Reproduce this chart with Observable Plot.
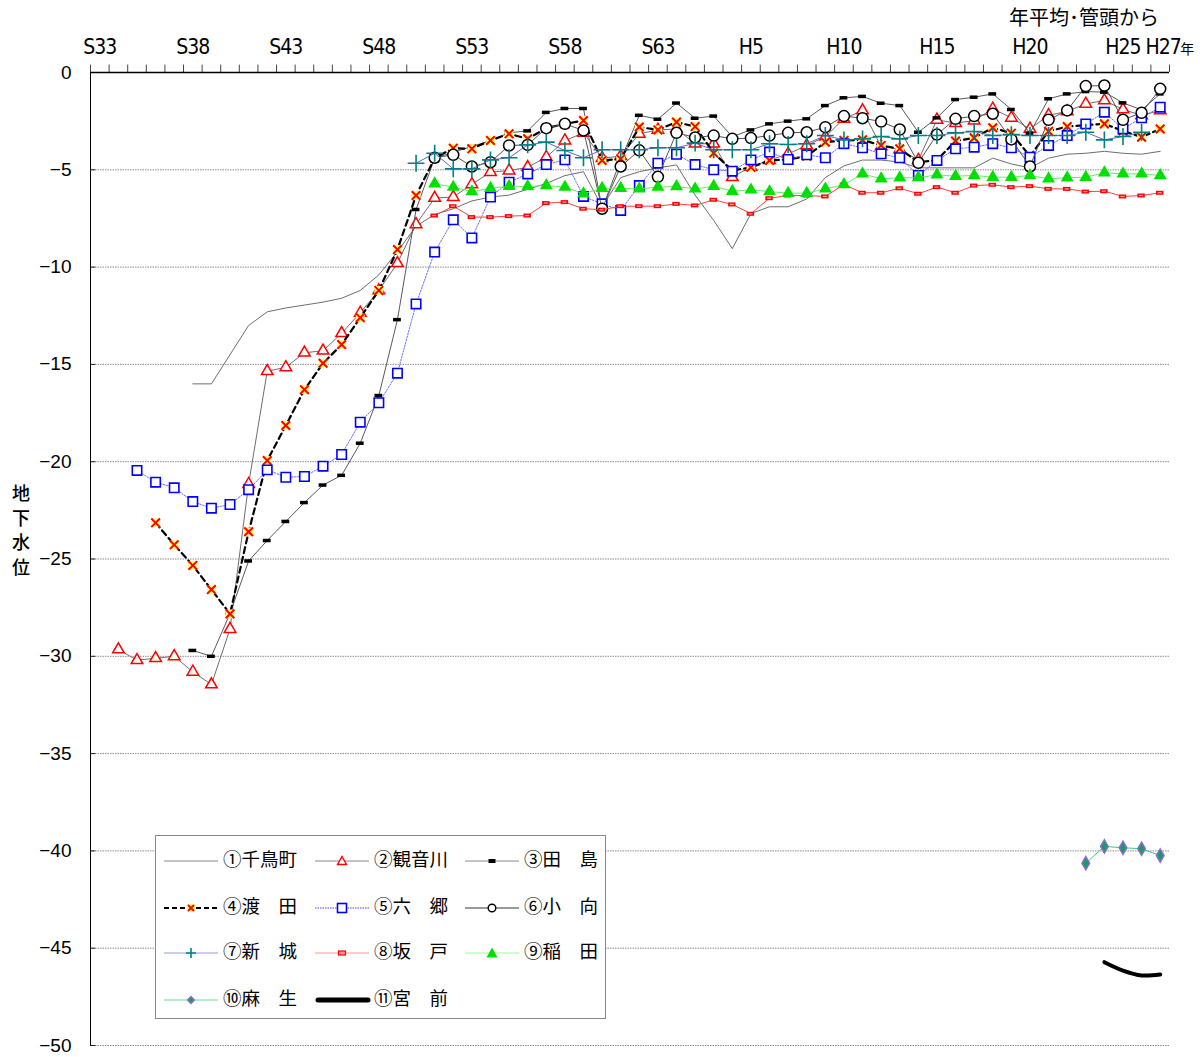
<!DOCTYPE html>
<html><head><meta charset="utf-8">
<script src="https://cdn.jsdelivr.net/npm/d3@7"></script>
<script src="https://cdn.jsdelivr.net/npm/@observablehq/plot@0.6"></script>
<style>
body{margin:0;background:#fff;}
#wrap{position:relative;width:1204px;height:1057px;font-family:"Noto Sans CJK JP",sans-serif;color:#000;}
#wrap > svg{position:absolute;left:0;top:0;}
#title{position:absolute;right:45px;top:3px;font-size:20px;line-height:28px;}
#ylab{position:absolute;left:11px;top:480px;width:20px;font-size:18px;line-height:24.5px;text-align:center;font-weight:500;}
#legend{position:absolute;left:155px;top:835px;width:449px;height:182px;border:1px solid #888;background:#fff;}
.li{position:absolute;font-size:18.5px;line-height:22px;white-space:pre;}
.ls{position:absolute;}
</style></head><body><div id="wrap"><div id="title">年平均･管頭から</div><div id="ylab">地<br>下<br>水<br>位</div><div id="legend"></div></div>
<script>
// categories (fiscal years)
const years = ["S33","S34","S35","S36","S37","S38","S39","S40","S41","S42","S43","S44","S45","S46","S47","S48","S49","S50","S51","S52","S53","S54","S55","S56","S57","S58","S59","S60","S61","S62","S63","H1","H2","H3","H4","H5","H6","H7","H8","H9","H10","H11","H12","H13","H14","H15","H16","H17","H18","H19","H20","H21","H22","H23","H24","H25","H26","H27"];
const xLabels = ["S33","S38","S43","S48","S53","S58","S63","H5","H10","H15","H20","H25"];
const lastLabel = "H27";
const yTicks = [0,-5,-10,-15,-20,-25,-30,-35,-40,-45,-50];
const names = ["①千鳥町","②観音川","③田　島","④渡　田","⑤六　郷","⑥小　向","⑦新　城","⑧坂　戸","⑨稲　田","⑩麻　生","⑪宮　前"];

// series values (m), index aligned with years
const chidori = [null,null,null,null,null,-16.0,-16.0,-14.5,-13.0,-12.3,-12.1,-11.95,-11.8,-11.6,-11.2,-10.4,-9.2,-7.9,-7.3,-7.0,-6.6,-6.4,-6.3,-6.0,-5.7,-5.3,-5.1,-6.9,-5.4,-5.1,-4.9,-4.75,-6.3,-7.6,-9.05,-7.25,-6.9,-6.9,-6.5,-5.4,-4.8,-4.5,-4.5,-4.6,-4.9,-4.9,-4.9,-4.9,-4.4,-4.7,-4.9,-4.4,-4.2,-4.15,-4.05,-4.15,-4.2,-4.05];
const kannongawa = [null,-29.65,-30.2,-30.1,-30.0,-30.8,-31.45,-28.6,-21.15,-15.35,-15.15,-14.4,-14.3,-13.4,-12.35,-11.2,-9.8,-7.8,-6.45,-6.4,-5.75,-5.12,-5.04,-4.87,-4.35,-3.5,-3.1,-4.4,-4.3,-3.15,-2.95,-2.9,-3.66,-3.66,-5.38,-4.85,-4.5,-4.18,-3.75,-3.3,-2.38,-1.95,-3.8,-3.95,-4.5,-2.43,-2.6,-2.47,-1.87,-2.33,-2.9,-2.2,-2.0,-1.61,-1.44,-1.9,-2.2,-1.95];
const tajima = [null,null,null,null,null,-29.7,-30.0,-27.8,-25.1,-24.05,-23.07,-22.1,-21.2,-20.7,-19.05,-16.6,-12.7,-7.04,-4.4,-4.1,-3.8,-3.5,-3.1,-3.0,-2.05,-1.85,-1.85,-7.0,-4.5,-2.2,-2.4,-1.57,-2.35,-2.24,-3.3,-2.95,-2.64,-2.5,-2.38,-1.7,-1.3,-1.23,-1.58,-1.7,-3.07,-2.33,-1.39,-1.27,-1.1,-1.9,-3.12,-1.35,-1.1,-0.98,-1.01,-1.56,-1.92,-1.1];
const watarida = [null,null,null,-23.14,-24.27,-25.33,-26.57,-27.82,-23.6,-19.94,-18.14,-16.3,-14.94,-13.98,-12.6,-11.2,-9.1,-6.32,-4.4,-3.89,-3.92,-3.49,-3.15,-3.41,-2.86,-2.64,-2.47,-4.52,-4.44,-2.8,-2.95,-2.55,-2.78,-4.14,-5.04,-4.87,-4.52,-4.47,-4.3,-3.58,-3.49,-3.46,-3.75,-3.92,-4.61,-4.5,-3.52,-3.36,-2.84,-3.12,-4.3,-3.02,-2.78,-2.7,-2.64,-3.0,-3.32,-2.9];
const rokugo = [null,null,-20.45,-21.05,-21.34,-22.05,-22.39,-22.2,-21.44,-20.42,-20.8,-20.76,-20.23,-19.63,-17.97,-16.97,-15.45,-11.89,-9.23,-7.57,-8.5,-6.4,-5.64,-5.21,-4.73,-4.49,-6.37,-6.75,-7.09,-5.81,-4.66,-4.2,-4.73,-5.0,-5.07,-4.49,-4.09,-4.47,-4.23,-4.38,-3.66,-3.87,-4.18,-4.38,-5.29,-4.52,-3.92,-3.84,-3.66,-3.87,-4.35,-3.75,-3.24,-2.64,-2.04,-2.9,-2.33,-1.78];
const komukai = [null,null,null,null,null,null,null,null,null,null,null,null,null,null,null,null,null,null,-4.38,-4.23,-4.83,-4.61,-3.75,-3.72,-2.86,-2.64,-2.98,-7.0,-4.83,-4.0,-5.36,-3.1,-3.34,-3.24,-3.41,-3.37,-3.24,-3.1,-3.07,-2.81,-2.24,-2.35,-2.52,-2.93,-4.64,-3.19,-2.38,-2.24,-2.12,-3.44,-4.83,-2.43,-1.95,-0.7,-0.67,-2.43,-2.07,-0.84];
const shinjo = [null,null,null,null,null,null,null,null,null,null,null,null,null,null,null,null,null,-4.66,-4.15,-4.95,-4.95,-4.49,-4.38,-3.72,-3.58,-4.01,-4.38,-3.97,-3.97,-3.97,-3.87,-3.87,-3.63,-3.97,-3.97,-3.97,-3.66,-3.7,-3.66,-3.24,-3.46,-3.41,-3.29,-3.41,-3.24,-3.24,-3.1,-3.03,-3.24,-3.19,-3.24,-3.24,-3.24,-3.07,-3.46,-3.29,-3.07,null];
const sakado = [null,null,null,null,null,null,null,null,null,null,null,null,null,null,null,null,null,null,-7.35,-6.87,-7.43,-7.43,-7.38,-7.35,-6.71,-6.66,-7.0,-7.05,-6.87,-6.87,-6.87,-6.75,-6.83,-6.54,-6.78,-7.26,-6.46,-6.32,-6.32,-6.37,-5.76,-6.18,-6.18,-5.95,-6.23,-5.89,-6.18,-5.81,-5.77,-5.89,-5.84,-5.98,-5.98,-6.12,-6.1,-6.37,-6.32,-6.18];
const inada = [null,null,null,null,null,null,null,null,null,null,null,null,null,null,null,null,null,null,-5.72,-5.89,-6.12,-5.95,-5.84,-5.86,-5.81,-5.89,-6.23,-5.95,-5.95,-5.98,-5.89,-5.86,-5.98,-5.84,-6.1,-6.03,-6.12,-6.2,-6.2,-5.98,-5.76,-5.21,-5.46,-5.41,-5.4,-5.26,-5.33,-5.29,-5.38,-5.38,-5.29,-5.46,-5.41,-5.38,-5.15,-5.21,-5.21,-5.29];
const asoYears = ["H23","H24","H25","H26","H27"];
const aso = [-40.63,-39.77,-39.84,-39.89,-40.24];
const miyamaeYears = ["H24","H25","H26","H27"];
const miyamae = [-45.72,-46.15,-46.4,-46.35];

const rows = arr => arr.map((v, k) => ({x: k, v}));
const pts = arr => rows(arr).filter(d => d.v != null);
const rowsY = (ys, arr) => arr.map((v, k) => ({x: years.indexOf(ys[k]), v}));

const tickFont = "'Liberation Sans Narrow','Arial Narrow','DejaVu Sans Condensed',sans-serif";
const halfTicks = d3.range(-0.5, years.length, 1);
const fmtY = d => d === 0 ? "0" : "\u2212" + Math.abs(d);

const marks = [
  Plot.ruleY(yTicks.filter(d => d !== 0), {stroke: "#8c8c8c", strokeWidth: 1, strokeDasharray: "1.5,1"}),
  Plot.ruleY(yTicks.filter(d => d !== 0), {x1: -0.5, x2: -0.22, stroke: "#222"}),
  Plot.ruleX(halfTicks, {y1: 0, y2: 0.38, stroke: "#444", strokeWidth: 1}),
  Plot.ruleY([0], {stroke: "#000", strokeWidth: 1.5}),
  Plot.ruleX([-0.5], {stroke: "#000", strokeWidth: 1}),
  Plot.text(yTicks, {x: -0.5, y: d => d, text: fmtY, textAnchor: "end", dx: -19, fontSize: 19, fontFamily: "'Liberation Sans',Arial,sans-serif"}),
  Plot.text(xLabels, {x: d => years.indexOf(d), y: 0, text: d => d, dy: -25, fontSize: 21, fontFamily: tickFont}),
  Plot.text([lastLabel], {x: d => years.indexOf(d), y: 0, text: d => d, dx: 3, dy: -25, fontSize: 21, fontFamily: tickFont}),
  Plot.text([lastLabel], {x: d => years.indexOf(d), y: 0, text: () => "年", dx: 27, dy: -23, fontSize: 14, fontFamily: "'Noto Sans CJK JP',sans-serif"}),

  // ① 千鳥町
  Plot.line(rows(chidori), {x: "x", y: "v", stroke: "#6e6e6e", strokeWidth: 1}),
  // ② 観音川
  Plot.line(rows(kannongawa), {x: "x", y: "v", stroke: "#6e6e6e", strokeWidth: 1}),
  Plot.dot(pts(kannongawa), {x: "x", y: "v", symbol: "triangle", r: 4.3, stroke: "#ff0000", fill: "#fff", strokeWidth: 1.5}),
  // ③ 田島
  Plot.line(rows(tajima), {x: "x", y: "v", stroke: "#5a5a5a", strokeWidth: 1}),
  Plot.ruleY(pts(tajima), {y: "v", x1: d => d.x - 0.21, x2: d => d.x + 0.21, stroke: "#000", strokeWidth: 3.5}),
  // ④ 渡田
  Plot.line(rows(watarida), {x: "x", y: "v", stroke: "#000", strokeWidth: 2.2, strokeDasharray: "6,4"}),
  Plot.dot(pts(watarida), {x: "x", y: "v", symbol: "square", r: 5, fill: "#ffff70", stroke: "none"}),
  Plot.dot(pts(watarida), {x: "x", y: "v", symbol: "times", r: 4, stroke: "#ff0000", strokeWidth: 2}),
  // ⑤ 六郷
  Plot.line(rows(rokugo), {x: "x", y: "v", stroke: "#6a6aff", strokeWidth: 1, strokeDasharray: "1.5,1.5"}),
  Plot.dot(pts(rokugo), {x: "x", y: "v", symbol: "square", r: 5.3, stroke: "#0000ff", fill: "#fff", strokeWidth: 1.6}),
  // ⑥ 小向
  Plot.line(rows(komukai), {x: "x", y: "v", stroke: "#555", strokeWidth: 1}),
  Plot.dot(pts(komukai), {x: "x", y: "v", symbol: "circle", r: 5.5, stroke: "#000", fill: "#fff", strokeWidth: 1.5}),
  // ⑦ 新城
  Plot.line(rows(shinjo), {x: "x", y: "v", stroke: "#6464c8", strokeWidth: 1}),
  Plot.dot(pts(shinjo), {x: "x", y: "v", symbol: "plus", r: 5.5, stroke: "#008080", strokeWidth: 1.6}),
  // ⑧ 坂戸
  Plot.line(rows(sakado), {x: "x", y: "v", stroke: "#ff4040", strokeWidth: 1}),
  Plot.ruleY(pts(sakado), {y: "v", x1: d => d.x - 0.2, x2: d => d.x + 0.2, stroke: "#ff0000", strokeWidth: 4}),
  Plot.ruleY(pts(sakado), {y: "v", x1: d => d.x - 0.11, x2: d => d.x + 0.11, stroke: "#ff9a9a", strokeWidth: 1.3}),
  // ⑨ 稲田
  Plot.line(rows(inada), {x: "x", y: "v", stroke: "#66ee66", strokeWidth: 1}),
  Plot.dot(pts(inada), {x: "x", y: "v", symbol: "triangle", r: 4.8, fill: "#00e000", stroke: "none"}),
  // ⑩ 麻生
  Plot.line(rowsY(asoYears, aso), {x: "x", y: "v", stroke: "#33cc88", strokeWidth: 1}),
  Plot.dot(rowsY(asoYears, aso), {x: "x", y: "v", symbol: "diamond", r: 4, fill: "#1a9a6a", stroke: "#8a6cc8", strokeWidth: 1.5}),
  // ⑪ 宮前
  Plot.line(rowsY(miyamaeYears, miyamae), {x: "x", y: "v", stroke: "#000", strokeWidth: 4, curve: "catmull-rom", strokeLinecap: "round"})
];

const chart = Plot.plot({
  width: 1204, height: 1057,
  marginLeft: 90, marginRight: 35, marginTop: 72, marginBottom: 12,
  x: {type: "linear", domain: [-0.5, years.length - 0.5], axis: null},
  y: {domain: [-50, 0], axis: null},
  style: {background: "#fff", overflow: "visible"},
  marks
});
// condense the category labels a little
d3.select(chart).selectAll("text").filter(function () { return years.includes(this.textContent); }).style("letter-spacing", "-1px");
const wrap = document.getElementById("wrap");
wrap.insertBefore(chart, wrap.firstChild);

// legend (HTML overlay)
const L = document.getElementById("legend");
const colX = [8, 159, 309];
const rowY = [22, 69, 114, 161];
const samples = [
  `<line x1="0" y1="8" x2="54" y2="8" stroke="#888" stroke-width="1"/>`,
  `<line x1="0" y1="8" x2="54" y2="8" stroke="#888" stroke-width="1"/><path d="M27,3.5 L31.5,11.5 L22.5,11.5 Z" fill="#fff" stroke="#f00" stroke-width="1.4"/>`,
  `<line x1="0" y1="8" x2="54" y2="8" stroke="#888" stroke-width="1"/><rect x="23.5" y="6" width="7" height="4" fill="#000"/>`,
  `<line x1="0" y1="8" x2="54" y2="8" stroke="#000" stroke-width="2" stroke-dasharray="5,3"/><rect x="23" y="4" width="8" height="8" fill="#ffff70"/><path d="M24,5 L30,11 M30,5 L24,11" stroke="#f00" stroke-width="1.8"/>`,
  `<line x1="0" y1="8" x2="54" y2="8" stroke="#a0a0ff" stroke-width="2" stroke-dasharray="1.5,1"/><rect x="22.5" y="3.5" width="9" height="9" fill="#fff" stroke="#00f" stroke-width="1.6"/>`,
  `<line x1="0" y1="8" x2="54" y2="8" stroke="#999" stroke-width="2"/><circle cx="27" cy="8" r="3.8" fill="#fff" stroke="#000" stroke-width="1.4"/>`,
  `<line x1="0" y1="8" x2="54" y2="8" stroke="#9999d8" stroke-width="1"/><path d="M27,3 V13 M22,8 H32" stroke="#008080" stroke-width="1.6"/>`,
  `<line x1="0" y1="8" x2="54" y2="8" stroke="#ff9999" stroke-width="1"/><rect x="23.5" y="6" width="7" height="4" fill="#ff9a9a" stroke="#f00" stroke-width="1.2"/>`,
  `<line x1="0" y1="8" x2="54" y2="8" stroke="#99ff99" stroke-width="1"/><path d="M27,2.5 L32.5,12.5 L21.5,12.5 Z" fill="#00e000"/>`,
  `<line x1="0" y1="8" x2="54" y2="8" stroke="#66dd99" stroke-width="1"/><path d="M27,4.5 L30.5,8 L27,11.5 L23.5,8 Z" fill="#1a9a6a" stroke="#8a6cc8" stroke-width="1.3"/>`,
  `<line x1="3" y1="8" x2="53" y2="8" stroke="#000" stroke-width="5" stroke-linecap="round"/>`
];
names.forEach((n, k) => {
  const c = k % 3, r = Math.floor(k / 3);
  const s = document.createElement("div");
  s.className = "ls";
  s.style.left = colX[c] + "px";
  s.style.top = (rowY[r] - 8) + "px";
  s.innerHTML = `<svg width="56" height="16">${samples[k]}</svg>`;
  L.appendChild(s);
  const t = document.createElement("div");
  t.className = "li";
  t.style.left = (colX[c] + 59) + "px";
  t.style.top = (rowY[r] - 11) + "px";
  t.textContent = n;
  L.appendChild(t);
});
</script></body></html>
